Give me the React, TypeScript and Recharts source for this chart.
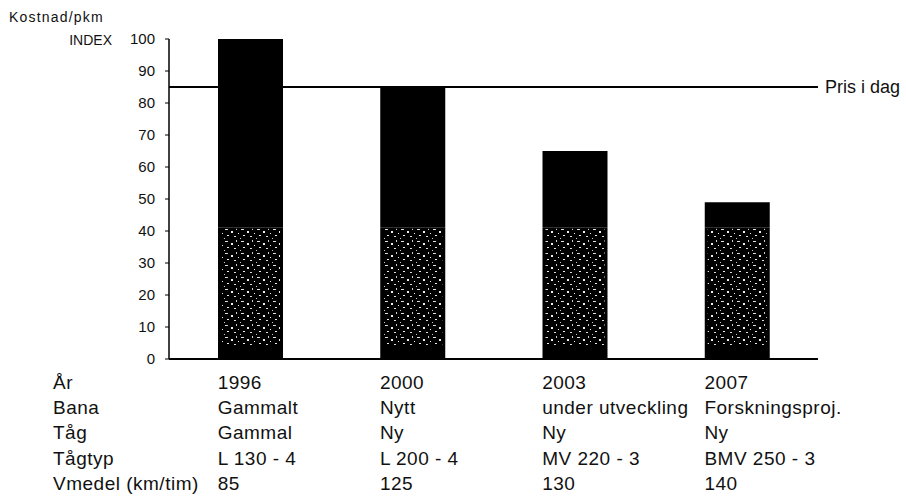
import React from 'react';
import { ComposedChart, Bar, XAxis, YAxis, ReferenceLine } from 'recharts';

const categories = ['1996', '2000', '2003', '2007'];
const totalIndex = [100, 85, 65, 49];
const baseIndex = [41, 41, 41, 41];
const priceToday = 85;
const yTicks = [0, 10, 20, 30, 40, 50, 60, 70, 80, 90, 100];

const rowLabels = ['År', 'Bana', 'Tåg', 'Tågtyp', 'Vmedel (km/tim)'];
const banaRow = ['Gammalt', 'Nytt', 'under utveckling', 'Forskningsproj.'];
const tagRow = ['Gammal', 'Ny', 'Ny', 'Ny'];
const tagtypRow = ['L 130 - 4', 'L 200 - 4', 'MV 220 - 3', 'BMV 250 - 3'];
const vmedelRow = ['85', '125', '130', '140'];

const data = categories.map((c, i) => ({
  year: c,
  base: baseIndex[i],
  top: totalIndex[i] - baseIndex[i],
}));

const FONT = '"Liberation Sans", Arial, Helvetica, sans-serif';
const BAR = 65;
const ROW_GAP = 25.2;
const ROW0 = 30;
const TABLE_FS = 19;
const TABLE_LS = 0.5;

const TableTick = (props: any) => {
  const { x, y, index } = props;
  const cells = [categories[index], banaRow[index], tagRow[index], tagtypRow[index], vmedelRow[index]];
  return (
    <g>
      {cells.map((t, r) => (
        <text key={r} x={x - BAR / 2} y={y + ROW0 + r * ROW_GAP} fill="#111" fontSize={TABLE_FS} letterSpacing={TABLE_LS} fontFamily={FONT} textAnchor="start">
          {t}
        </text>
      ))}
    </g>
  );
};

const SpeckShape = (props: any) => {
  const { x, y, width, height } = props;
  return (
    <g>
      <rect x={x} y={y} width={width} height={height} fill="#000" />
      <rect x={x + 3} y={y + 1} width={Math.max(0, width - 6)} height={Math.max(0, height - 14)} fill="url(#speck)" />
    </g>
  );
};

export default function App() {
  return (
    <div style={{ position: 'absolute', left: 0, top: 0, width: 906, height: 499, background: '#fff' }}>
      <ComposedChart
        width={906}
        height={499}
        data={data}
        margin={{ top: 39, right: 88, bottom: 0, left: 0 }}
        style={{ fontFamily: FONT }}
      >
        <defs>
          <pattern id="speck" width="16" height="12" patternUnits="userSpaceOnUse">
            <rect width="16" height="12" fill="#000" />
            <rect x="1" y="1" width="3" height="1" fill="#ddd" />
            <rect x="7" y="3" width="2" height="2" fill="#eee" />
            <rect x="12" y="0" width="1" height="2" fill="#ccc" />
            <rect x="3" y="7" width="2" height="1" fill="#eee" />
            <rect x="10" y="8" width="2" height="1" fill="#ddd" />
            <rect x="14" y="5" width="1" height="1" fill="#eee" />
            <rect x="0" y="10" width="1" height="1" fill="#ccc" />
          </pattern>
        </defs>
        <XAxis
          dataKey="year"
          height={140}
          tickSize={0}
          tickMargin={0}
          tickLine={false}
          axisLine={{ stroke: '#000', strokeWidth: 2 }}
          tick={<TableTick />}
          interval={0}
        />
        <YAxis
          width={169}
          domain={[0, 100]}
          ticks={yTicks}
          interval={0}
          tickSize={4}
          tickMargin={10}
          axisLine={{ stroke: '#000', strokeWidth: 1.5 }}
          tickLine={{ stroke: '#000' }}
          tick={{ fill: '#111', fontSize: 15 }}
        />
        <Bar dataKey="base" stackId="a" barSize={BAR} fill="#000" shape={<SpeckShape />} isAnimationActive={false} />
        <Bar dataKey="top" stackId="a" barSize={BAR} fill="#000" isAnimationActive={false} />
        <ReferenceLine
          y={priceToday}
          stroke="#000"
          strokeWidth={2}
          label={{ value: 'Pris i dag', position: 'right', offset: 7, fill: '#111', fontSize: 18 }}
        />
      </ComposedChart>
      <svg width={906} height={499} style={{ position: 'absolute', left: 0, top: 0, pointerEvents: 'none' }}>
        <text x={9} y={22} fontSize={14} fontFamily={FONT} fill="#111" letterSpacing={1.2}>Kostnad/pkm</text>
        <text x={112} y={45} fontSize={14} fontFamily={FONT} fill="#111" textAnchor="end">INDEX</text>
        {rowLabels.map((t, r) => (
          <text key={r} x={53} y={359 + ROW0 + r * ROW_GAP} fontSize={TABLE_FS} letterSpacing={TABLE_LS} fontFamily={FONT} fill="#111">{t}</text>
        ))}
      </svg>
    </div>
  );
}
